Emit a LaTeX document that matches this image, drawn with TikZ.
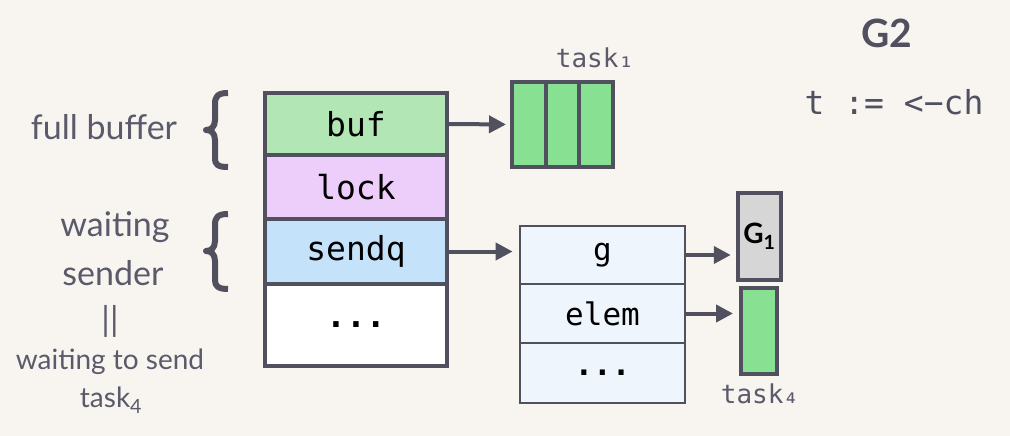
\documentclass[tikz,border=0pt]{standalone}
\usepackage{fontspec}
\setmainfont{Lato}
\newfontfamily\codefont{DejaVu Sans Mono}
\usetikzlibrary{arrows.meta}
\definecolor{bgc}{RGB}{248,245,241}
\definecolor{ink}{RGB}{80,80,95}
\definecolor{labelc}{RGB}{90,90,106}
\definecolor{bufc}{RGB}{179,230,181}
\definecolor{lockc}{RGB}{237,205,249}
\definecolor{sendqc}{RGB}{197,226,251}
\definecolor{sudogc}{RGB}{238,245,253}
\definecolor{taskc}{RGB}{136,224,147}
\definecolor{gc}{RGB}{214,214,214}
\tikzset{
  field/.style={draw=ink, line width=4pt, minimum width=182pt, inner sep=0pt,
    font=\codefont\fontsize{33}{36}\selectfont, text=black},
  sfield/.style={draw=ink, line width=2.8pt, fill=sudogc, minimum width=165pt,
    inner sep=0pt, font=\codefont\fontsize{31}{34}\selectfont, text=black},
  slot/.style={draw=ink, line width=4pt, fill=taskc, inner sep=0pt},
  ptr/.style={draw=ink, line width=4pt, -{Triangle[length=17pt,width=17pt]}},
  side/.style={text=labelc, font=\fontsize{34}{38}\selectfont, inner sep=0pt},
  small side/.style={text=labelc, font=\fontsize{28}{32}\selectfont, inner sep=0pt},
  tasklbl/.style={text=labelc, font=\codefont\fontsize{26}{30}\selectfont, inner sep=0pt},
  bracel/.style={draw=ink, line width=6pt, line cap=butt, line join=round},
}
\begin{document}
\begin{tikzpicture}[x=1pt, y=-1pt]
  \fill[bgc] (0,0) rectangle (1010,436);
  \useasboundingbox (0,0) rectangle (1010,436);

  % channel structure
  \node[field, fill=bufc,   minimum height=62pt] (buf)   at (356,124)   {buf};
  \node[field, fill=lockc,  minimum height=64pt] (lock)  at (356,187)   {lock};
  \node[field, fill=sendqc, minimum height=65pt] (sendq) at (356,251.5) {sendq};
  \node[field, fill=white,  minimum height=82pt] (more)  at (356,325)   {\bfseries ...};

  % circular buffer, full
  \node[slot, minimum width=34pt, minimum height=85pt] (s1) at (529,124.5) {};
  \node[slot, minimum width=33pt, minimum height=85pt] (s2) at (562.5,124.5) {};
  \node[slot, minimum width=34pt, minimum height=85pt] (s3) at (596,124.5) {};
  \node[tasklbl] (t1) at (595,58) {task₁};

  % waiting sender (sudog)
  \node[sfield, minimum height=58pt] (g)    at (602.5,255)   {g};
  \node[sfield, minimum height=59pt] (elem) at (602.5,313.5) {elem};
  \node[sfield, minimum height=60pt] (sdots) at (602.5,373)  {\bfseries ...};

  \node[draw=ink, line width=4.5pt, fill=gc, minimum width=43pt, minimum height=87pt,
        inner sep=0pt, font=\bfseries\fontsize{28}{30}\selectfont, text=black]
        (G1) at (759.5,236.5) {G\textsubscript{1}};
  \node[slot, minimum width=36pt, minimum height=86pt] (t4box) at (759,331) {};
  \node[tasklbl] (t4) at (760,394) {task₄};

  % pointers
  \draw[ptr, shorten >=4pt] (buf.east) -- (s1.west);
  \draw[ptr, shorten >=6pt] (sendq.east) -- (sendq.east -| g.west);
  \draw[ptr, shorten >=5pt] (g.east) -- (g.east -| G1.west);
  \draw[ptr, shorten >=6pt] (elem.east) -- (elem.east -| t4box.west);

  % goroutine G2
  \node[text=ink, font=\bfseries\fontsize{39}{42}\selectfont, inner sep=0pt] (G2) at (887,33) {G2};
  \node[text=ink, font=\codefont\fontsize{33}{36}\selectfont, inner sep=0pt] (recv) at (894,102) {t := <−ch};

  % side notes with braces
  \node[side] (full) at (104,127) {full buffer};
  \draw[bracel] (228,93) .. controls (218,93) and (215,96) .. (215,104) -- (215,120)
     .. controls (215,127) and (211,130) .. (206,130)
     .. controls (211,130) and (215,133) .. (215,140) -- (215,158)
     .. controls (215,165) and (218,167) .. (228,167);
  \node[side] (wait) at (115,227) {waiting};
  \node[side] (sender) at (113,273) {sender};
  \draw[bracel] (228,214) .. controls (218,214) and (215,217) .. (215,225) -- (215,241)
     .. controls (215,248) and (211,251) .. (206,251)
     .. controls (211,251) and (215,254) .. (215,261) -- (215,280)
     .. controls (215,286) and (218,289) .. (228,289);
  \node[side] (eq) at (110,321) {||};
  \node[small side] (wsend) at (110,362) {waiting to send};
  \node[small side] (wtask) at (111,400) {task\textsubscript{4}};
\end{tikzpicture}
\end{document}
